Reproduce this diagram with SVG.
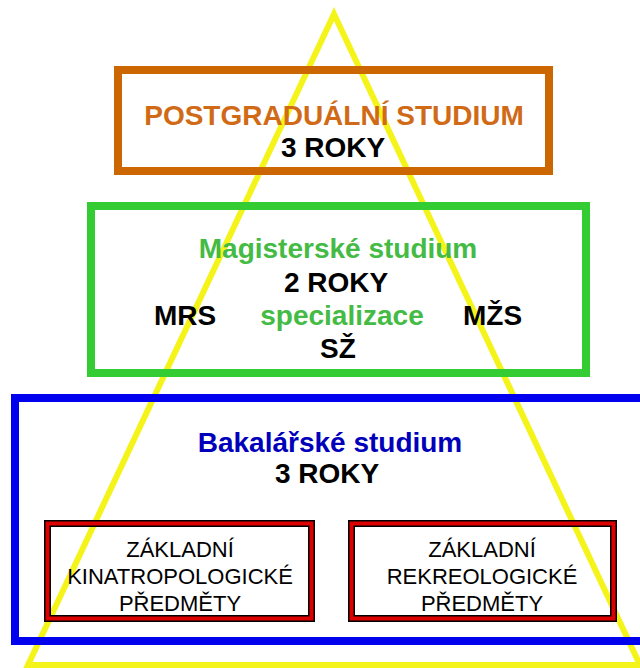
<svg xmlns="http://www.w3.org/2000/svg" width="640" height="668" viewBox="0 0 640 668">
<style>
text{font-family:"Liberation Sans",Arial,sans-serif;text-anchor:middle}
.b{font-weight:bold;font-size:28px}
.k{fill:#000}
.r{font-size:22px;fill:#000}
.frame{fill:none;stroke-width:8}
.sub1{fill:none;stroke:#000;stroke-width:7}
.sub2{fill:none;stroke:#dd0000;stroke-width:4}
</style>
<rect width="640" height="668" fill="#fff"/>
<g id="triangle">
<polygon points="334,14 28,665 640,665" fill="none" stroke="#f4f41a" stroke-width="6" stroke-linejoin="miter"/>
</g>
<g id="connectors"></g>
<g id="postgradual">
<rect class="frame" x="118" y="70" width="431" height="101" stroke="#cc6600"/>
<text class="b" x="334" y="125" fill="#d06a16">POSTGRADUÁLNÍ STUDIUM</text>
<text class="b k" x="333" y="157">3 ROKY</text>
</g>
<g id="master">
<rect class="frame" x="91" y="206" width="495" height="167" stroke="#33cc33"/>
<text class="b" x="338" y="258" fill="#44bb44">Magisterské studium</text>
<text class="b k" x="336" y="292">2 ROKY</text>
<text class="b k" x="154" y="325" style="text-anchor:start">MRS</text>
<text class="b" x="342" y="325" fill="#44bb44">specializace</text>
<text class="b k" x="463" y="325" style="text-anchor:start">MŽS</text>
<text class="b k" x="338" y="358">SŽ</text>
</g>
<g id="bachelor">
<rect class="frame" x="15" y="398" width="635" height="243" stroke="#0000ee"/>
<text class="b" x="330" y="452" fill="#0000bb">Bakalářské studium</text>
<text class="b k" x="327" y="483">3 ROKY</text>
</g>
<g id="kinantropo">
<rect class="sub1" x="47.5" y="523.5" width="264" height="95"/>
<rect class="sub2" x="47.5" y="523.5" width="264" height="95"/>
<text class="r" x="180" y="557">ZÁKLADNÍ</text>
<text class="r" x="180" y="584">KINATROPOLOGICKÉ</text>
<text class="r" x="180" y="611">PŘEDMĚTY</text>
</g>
<g id="rekreo">
<rect class="sub1" x="351.5" y="523.5" width="262" height="95"/>
<rect class="sub2" x="351.5" y="523.5" width="262" height="95"/>
<text class="r" x="482" y="557">ZÁKLADNÍ</text>
<text class="r" x="482" y="584">REKREOLOGICKÉ</text>
<text class="r" x="482" y="611">PŘEDMĚTY</text>
</g>
</svg>
